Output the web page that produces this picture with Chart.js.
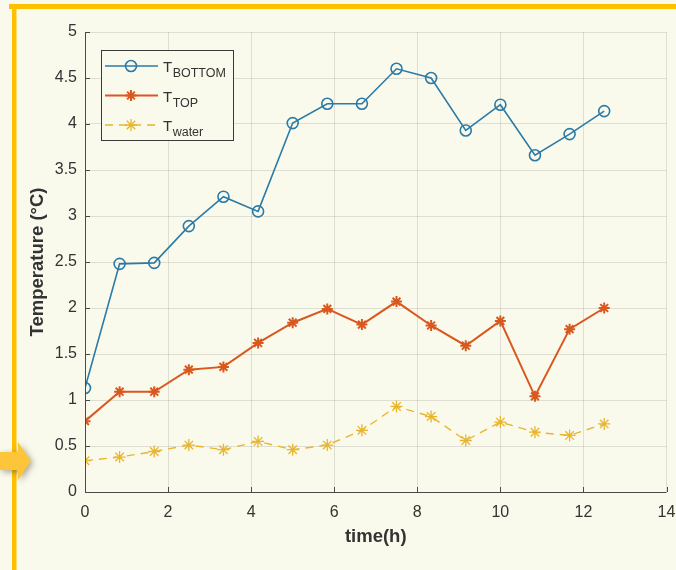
<!DOCTYPE html>
<html>
<head>
<meta charset="utf-8">
<script src="https://cdn.jsdelivr.net/npm/chart.js@4.4.1/dist/chart.umd.min.js"></script>
<style>
  html, body { margin: 0; padding: 0; background: #fafaec; }
  #wrap { width: 676px; height: 570px; position: relative; }
</style>
</head>
<body>
<div id="wrap"><canvas id="c" width="676" height="570"></canvas></div>
<script>
// ---- data ----
const timeH   = [0, 0.833, 1.667, 2.5, 3.333, 4.167, 5, 5.833, 6.667, 7.5, 8.333, 9.167, 10, 10.833, 11.667, 12.5];
const tBottom = [1.13, 2.48, 2.49, 2.89, 3.21, 3.05, 4.01, 4.22, 4.22, 4.60, 4.50, 3.93, 4.21, 3.66, 3.89, 4.14];
const tTop    = [0.77, 1.09, 1.09, 1.33, 1.36, 1.62, 1.84, 1.99, 1.82, 2.07, 1.81, 1.59, 1.86, 1.04, 1.77, 2.00];
const tWater  = [0.34, 0.38, 0.44, 0.51, 0.46, 0.55, 0.46, 0.51, 0.67, 0.93, 0.82, 0.56, 0.76, 0.65, 0.615, 0.74];
const seriesNames = [['T', 'BOTTOM'], ['T', 'TOP'], ['T', 'water']];
const xTitle = 'time(h)';
const yTitle = 'Temperature (°C)';

const BLUE = '#2b7ba7', ORANGE = '#d9581f', YELLOW = '#e8b52e';
const BG = '#fafaec', AXIS = '#4a4a4a', TXT = '#333333', GRID = 'rgba(0,0,0,0.11)';
const FONT = '"Liberation Sans", Arial, sans-serif';

const pts = ys => timeH.map((t, i) => ({ x: t, y: ys[i] }));

const decor = {
  id: 'decor',
  beforeDraw(chart) {
    const ctx = chart.ctx;
    ctx.save();
    ctx.fillStyle = BG;
    ctx.fillRect(0, 0, chart.width, chart.height);
    ctx.restore();
  },
  afterDraw(chart) {
    const ctx = chart.ctx;
    const xs = chart.scales.x, ys = chart.scales.y;
    const a = chart.chartArea;
    ctx.save();
    // axis lines
    ctx.strokeStyle = AXIS;
    ctx.lineWidth = 1;
    ctx.beginPath();
    ctx.moveTo(a.left + 0.5, a.top);
    ctx.lineTo(a.left + 0.5, a.bottom + 0.5);
    ctx.lineTo(a.right, a.bottom + 0.5);
    ctx.stroke();
    // inward ticks
    ctx.beginPath();
    xs.ticks.forEach(t => {
      const px = Math.round(xs.getPixelForValue(t.value)) + 0.5;
      ctx.moveTo(px, a.bottom); ctx.lineTo(px, a.bottom - 5);
    });
    ys.ticks.forEach(t => {
      const py = Math.round(ys.getPixelForValue(t.value)) + 0.5;
      ctx.moveTo(a.left, py); ctx.lineTo(a.left + 5, py);
    });
    ctx.stroke();

    // legend
    const lx = 101, ly = 50, lw = 132, lh = 90;
    ctx.fillStyle = BG;
    ctx.fillRect(lx, ly, lw, lh);
    ctx.strokeStyle = '#3a3a3a';
    ctx.lineWidth = 1;
    ctx.strokeRect(lx + 0.5, ly + 0.5, lw, lh);
    const rows = [66, 95.5, 125];
    chart.data.datasets.forEach((ds, i) => {
      const y = rows[i];
      ctx.save();
      ctx.strokeStyle = ds.borderColor;
      ctx.lineWidth = ds.borderWidth;
      ctx.setLineDash(ds.borderDash || []);
      ctx.beginPath();
      ctx.moveTo(105, y); ctx.lineTo(158, y);
      ctx.stroke();
      ctx.setLineDash([]);
      ctx.fillStyle = ds.pointBackgroundColor;
      ctx.strokeStyle = ds.pointBorderColor;
      ctx.lineWidth = ds.pointBorderWidth;
      Chart.helpers.drawPoint(ctx, { pointStyle: ds.pointStyle, radius: ds.pointRadius, rotation: 0, borderWidth: ds.pointBorderWidth }, 131, y);
      ctx.restore();
      ctx.fillStyle = TXT;
      ctx.textBaseline = 'alphabetic';
      ctx.textAlign = 'left';
      ctx.font = '15px ' + FONT;
      ctx.fillText(seriesNames[i][0], 163, y + 6);
      const tw = ctx.measureText(seriesNames[i][0]).width;
      ctx.font = '12.5px ' + FONT;
      ctx.fillText(seriesNames[i][1], 163 + tw + 0.5, y + 11);
    });

    // frame
    ctx.fillStyle = '#ffc000';
    ctx.fillRect(9, 4, chart.width - 9, 5);
    ctx.fillRect(12, 4, 4.5, chart.height - 4);

    // arrow with shadow
    ctx.save();
    ctx.shadowColor = 'rgba(0,0,0,0.35)';
    ctx.shadowBlur = 6;
    ctx.shadowOffsetX = 2;
    ctx.shadowOffsetY = 2;
    ctx.fillStyle = '#fdc53a';
    ctx.beginPath();
    ctx.moveTo(0, 452);
    ctx.lineTo(18, 452);
    ctx.lineTo(18, 442);
    ctx.lineTo(31, 461);
    ctx.lineTo(18, 480);
    ctx.lineTo(18, 470);
    ctx.lineTo(0, 470);
    ctx.closePath();
    ctx.fill();
    ctx.restore();
    ctx.restore();
  }
};

new Chart(document.getElementById('c'), {
  type: 'line',
  data: {
    datasets: [
      { data: pts(tBottom), borderColor: BLUE, borderWidth: 1.6, pointStyle: 'circle', pointRadius: 5.5,
        pointBorderWidth: 1.6, pointBorderColor: BLUE, pointBackgroundColor: 'rgba(0,0,0,0)', tension: 0 },
      { data: pts(tTop), borderColor: ORANGE, borderWidth: 2, pointStyle: 'star', pointRadius: 5.5,
        pointBorderWidth: 2, pointBorderColor: ORANGE, pointBackgroundColor: ORANGE, tension: 0 },
      { data: pts(tWater), borderColor: YELLOW, borderWidth: 1.4, borderDash: [8, 6], pointStyle: 'star', pointRadius: 6,
        pointBorderWidth: 1.3, pointBorderColor: YELLOW, pointBackgroundColor: YELLOW, tension: 0 }
    ]
  },
  options: {
    responsive: false,
    animation: false,
    layout: { padding: { top: 32, right: 9.5, left: 0, bottom: 0 } },
    plugins: { legend: { display: false }, tooltip: { enabled: false } },
    scales: {
      x: {
        type: 'linear', min: 0, max: 14,
        afterFit: s => { s.height = 78; s.paddingLeft = 0; s.paddingRight = 0; },
        ticks: { stepSize: 2, color: TXT, font: { family: FONT, size: 16 }, padding: 11, maxRotation: 0 },
        grid: { color: GRID, drawTicks: false },
        border: { display: false },
        title: { display: true, text: xTitle, color: TXT, font: { family: FONT, size: 18.5, weight: 'bold' }, padding: { top: 0, bottom: 22 } }
      },
      y: {
        type: 'linear', min: 0, max: 5,
        afterFit: s => { s.width = 85; s.paddingTop = 0; s.paddingBottom = 0; },
        ticks: { stepSize: 0.5, color: TXT, font: { family: FONT, size: 16 }, padding: 8, callback: v => String(v) },
        grid: { color: GRID, drawTicks: false },
        border: { display: false },
        title: { display: true, text: yTitle, color: TXT, font: { family: FONT, size: 18.5, weight: 'bold' }, padding: { top: 27, bottom: 0 } }
      }
    }
  },
  plugins: [decor]
});
</script>
</body>
</html>
